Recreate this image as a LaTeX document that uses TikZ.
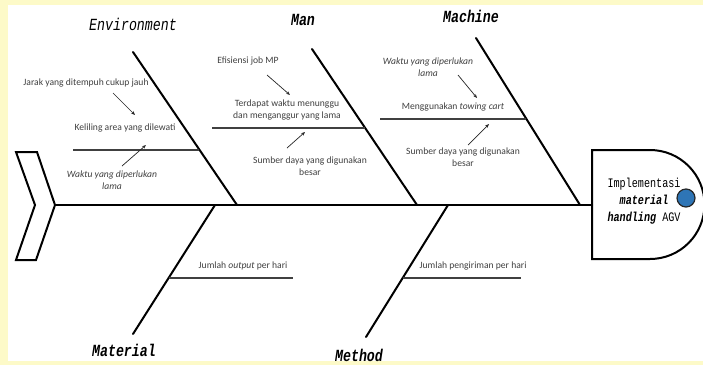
\documentclass[tikz,border=0pt]{standalone}
\usepackage{fontspec}
\setmainfont{Carlito}
\newfontfamily\lblfont[FakeStretch=0.78]{Liberation Mono}
\usetikzlibrary{arrows.meta}
\definecolor{bgyellow}{HTML}{FDFAC8}
\definecolor{txtgray}{HTML}{404040}
\definecolor{dotblue}{HTML}{2E75B6}
\begin{document}
\begin{tikzpicture}[x=1pt,y=-1pt,
  bone/.style={line width=2pt, black, line cap=round},
  subline/.style={line width=1.3pt, black!75},
  cause/.style={font=\fontsize{9.6}{12.5}\selectfont, text=txtgray, align=center, inner sep=0pt},
  causei/.style={cause, font=\fontsize{9.6}{12.5}\selectfont\itshape},
  arr/.style={-{Stealth[length=4pt,width=3.2pt]}, line width=0.7pt, black!85},
  cat/.style={font=\lblfont\fontsize{17}{17}\selectfont\itshape, inner sep=0pt},
  catb/.style={font=\lblfont\fontsize{17}{17}\selectfont\bfseries\itshape, inner sep=0pt},
]
\fill[bgyellow] (0,0) rectangle (703,365);
\fill[white] (8,5) rectangle (703,361);
\useasboundingbox (0,0) rectangle (703,365);

% tail
\draw[line width=2pt, line join=miter] (16,152) -- (37,152) -- (55,205) -- (36,260) -- (16,260) -- (35,205) -- cycle;
% head
\draw[line width=2pt] (592,150) -- (650,150) arc[start angle=90, end angle=-90, radius=54.5pt] -- (592,259) -- cycle;
\node[font=\lblfont\fontsize{13}{17}\selectfont, align=center, inner sep=0pt] (head) at (644,201)
  {Implementasi\\{\bfseries\itshape material}\\{\bfseries\itshape handling} AGV};
\node[circle, draw=black!85, line width=1.2pt, fill=dotblue, minimum size=18pt, inner sep=0pt] (dot) at (686,198) {};

% spine
\coordinate (tailtip) at (55,205);
\coordinate (headL) at (592,205);
\draw[bone] (tailtip) -- (headL);

% bones
\coordinate (envT) at (133,52);  \coordinate (envB) at (237,205);
\coordinate (manT) at (312,49);  \coordinate (manB) at (417,205);
\coordinate (macT) at (476,38);  \coordinate (macB) at (580,205);
\coordinate (matT) at (215,205); \coordinate (matB) at (133,334);
\coordinate (metT) at (448,205); \coordinate (metB) at (366,337);
\draw[bone] (envT) -- (envB);
\draw[bone] (manT) -- (manB);
\draw[bone] (macT) -- (macB);
\draw[bone] (matT) -- (matB);
\draw[bone] (metT) -- (metB);

% category labels
\node[cat]  (env) at (133,24) {Environment};
\node[catb] (man) at (303,20) {Man};
\node[catb] (mac) at (471,16) {Machine};
\node[catb] (mat) at (124,350) {Material};
\node[catb] (met) at (359,355) {Method};

% sub-lines
\coordinate (envL) at (73,150);  \coordinate (envR) at (199,150);
\coordinate (manL) at (212,128); \coordinate (manR) at (365,128);
\coordinate (macL) at (380,119); \coordinate (macR) at (526,119);
\coordinate (matL) at (169,278); \coordinate (matR) at (293,278);
\coordinate (metL) at (403,278); \coordinate (metR) at (521,278);
\draw[subline] (envL) -- (envR);
\draw[subline] (manL) -- (manR);
\draw[subline] (macL) -- (macR);
\draw[subline] (matL) -- (matR);
\draw[subline] (metL) -- (metR);

% environment causes
\node[cause] (e1) at (86,83) {Jarak yang ditempuh cukup jauh};
\node[cause] (e2) at (125,128) {Keliling area yang dilewati};
\node[causei] (e3) at (112,180) {Waktu yang diperlukan\\lama};
\coordinate (ea1) at (113,93);  \coordinate (ea2) at (135,115);
\coordinate (eb1) at (122,166); \coordinate (eb2) at (146,145);
\draw[arr] (ea1) -- (ea2);
\draw[arr] (eb1) -- (eb2);

% man causes
\node[cause] (m1) at (248,61) {Efisiensi job MP};
\node[cause] (m2) at (287,110) {Terdapat waktu menunggu\\dan menganggur yang lama};
\node[cause] (m3) at (310,166) {Sumber daya yang digunakan\\besar};
\coordinate (ma1) at (267,75);  \coordinate (ma2) at (290,95);
\coordinate (mb1) at (287,148); \coordinate (mb2) at (305,132);
\draw[arr] (ma1) -- (ma2);
\draw[arr] (mb1) -- (mb2);

% machine causes
\node[causei] (c1) at (428,67) {Waktu yang diperlukan\\lama};
\node[cause] (c2) at (453,107) {Menggunakan \textit{towing cart}};
\node[cause] (c3) at (463,157) {Sumber daya yang digunakan\\besar};
\coordinate (ca1) at (458,75);  \coordinate (ca2) at (477,98);
\coordinate (cb1) at (468,145); \coordinate (cb2) at (489,124);
\draw[arr] (ca1) -- (ca2);
\draw[arr] (cb1) -- (cb2);

% material / method causes
\node[cause] (t1) at (243,266) {Jumlah \textit{output} per hari};
\node[cause] (h1) at (473,266) {Jumlah pengiriman per hari};
\end{tikzpicture}
\end{document}
